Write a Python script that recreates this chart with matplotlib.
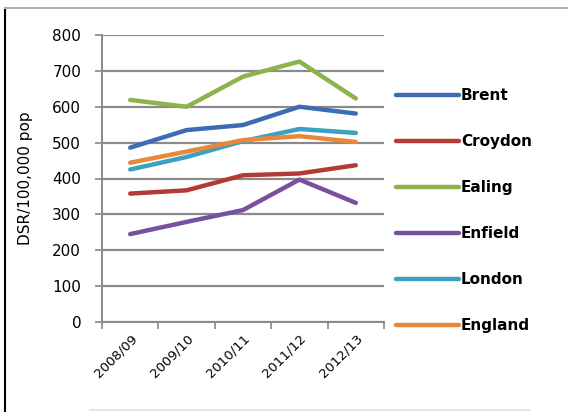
import matplotlib
matplotlib.use("Agg")
import matplotlib.pyplot as plt
from matplotlib.lines import Line2D

years = ["2008/09", "2009/10", "2010/11", "2011/12", "2012/13"]
brent = [486, 535, 549, 600, 581]
croydon = [358, 367, 409, 414, 437]
ealing = [619, 600, 684, 726, 623]
enfield = [245, 279, 312, 397, 332]
london = [425, 460, 504, 538, 527]
england = [444, 475, 507, 518, 502]

series = [
    ("Brent", brent, "#3b6cb4"),
    ("Croydon", croydon, "#b43a35"),
    ("Ealing", ealing, "#8db34b"),
    ("Enfield", enfield, "#7750a0"),
    ("London", london, "#3aa2c0"),
    ("England", england, "#e8883a"),
]

fig = plt.figure(figsize=(5.68, 4.12), dpi=100)
ax = fig.add_axes([102/568, 1-322/412, (384-102)/568, (322-35)/412])

x = list(range(len(years)))
for name, vals, col in series:
    ax.plot(x, vals, color=col, lw=3.2, label=name, solid_capstyle="round", solid_joinstyle="round")

ax.set_xlim(-0.5, len(years) - 0.5)
ax.set_ylim(0, 800)
ax.set_yticks(range(0, 801, 100))
ax.set_xticks(x)
ax.set_xticklabels(years, rotation=45, ha="right", rotation_mode="anchor", fontsize=9.5)
ax.set_xticks([i - 0.5 for i in range(len(years) + 1)], minor=True)
ax.tick_params(axis="x", which="major", length=0, pad=7)
ax.tick_params(axis="x", which="minor", length=5, width=1.2, color="#888888", direction="out")
ax.tick_params(axis="y", length=5, width=1.2, color="#888888", labelsize=11, pad=10)
ax.grid(axis="y", color="#8a8a8a", lw=1.6)
ax.set_axisbelow(True)
for s in ["top", "right"]:
    ax.spines[s].set_visible(False)
for s in ["left", "bottom"]:
    ax.spines[s].set_color("#8a8a8a")
    ax.spines[s].set_linewidth(1.4)
ax.set_ylabel("DSR/100,000 pop", fontsize=11, labelpad=14)

leg = ax.legend(loc="upper left", bbox_to_anchor=(396/568, 1-88/412), bbox_transform=fig.transFigure,
                frameon=False, fontsize=11, handlelength=4.1, handletextpad=0.15, labelspacing=2.03,
                borderaxespad=0, borderpad=0)
for t in leg.get_texts():
    t.set_fontweight("bold")

# outer frame
fig.add_artist(Line2D([5/568, 5/568], [0, 1-8/412], color="black", lw=1.5, transform=fig.transFigure))
fig.add_artist(Line2D([5/568, 1], [1-8/412, 1-8/412], color="#b0b0b0", lw=1.5, transform=fig.transFigure))
fig.add_artist(Line2D([90/568, 530/568], [2/412, 2/412], color="#e0e0e0", lw=1.2, transform=fig.transFigure))

fig.savefig("out.png", dpi=100)
